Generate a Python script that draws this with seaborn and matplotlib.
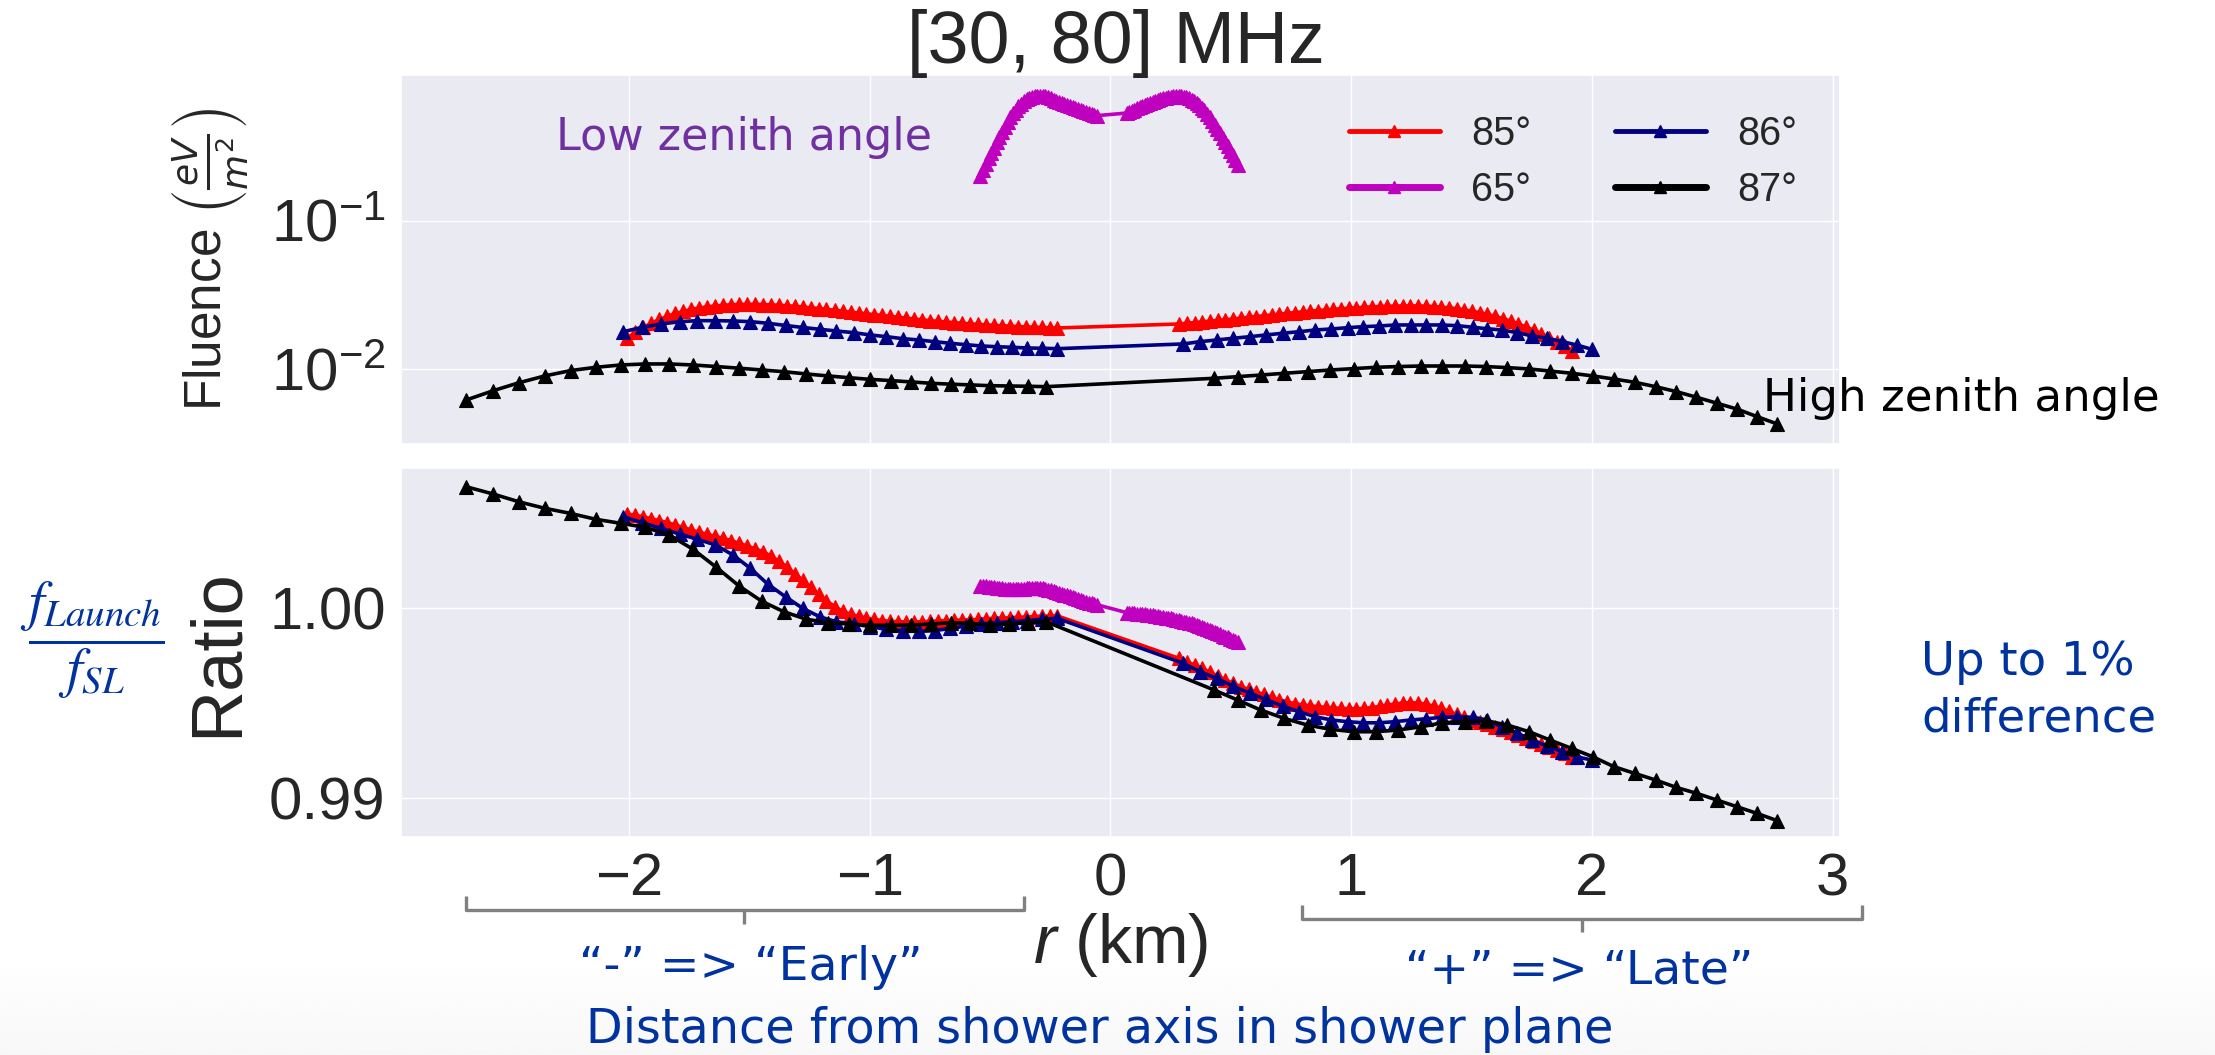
import numpy as np
import pandas as pd
import matplotlib
matplotlib.use("Agg")
import matplotlib.pyplot as plt
from matplotlib.lines import Line2D
import seaborn as sns

# ---------------- data ----------------
angles = ["85°", "65°", "86°", "87°"]
colors = ["#FF0000", "#BF00BF", "#000080", "#000000"]

# 85 deg
r85_left = [-2.006, -1.973, -1.940, -1.907, -1.874, -1.841, -1.807, -1.774, -1.741, -1.708,
            -1.675, -1.642, -1.609, -1.576, -1.543, -1.510, -1.476, -1.443, -1.410, -1.377,
            -1.344, -1.311, -1.278, -1.245, -1.212, -1.179, -1.145, -1.112, -1.079, -1.046,
            -1.013, -0.980, -0.947, -0.914, -0.881, -0.848, -0.814, -0.781, -0.748, -0.715,
            -0.682, -0.649, -0.616, -0.583, -0.550, -0.517, -0.483, -0.450, -0.417, -0.384,
            -0.351, -0.318, -0.285, -0.252, -0.221]
fl85_left = [0.01620, 0.01764, 0.01907, 0.02029, 0.02160, 0.02263, 0.02371, 0.02447, 0.02524, 0.02584,
             0.02624, 0.02665, 0.02694, 0.02715, 0.02728, 0.02732, 0.02732, 0.02723, 0.02711, 0.02694,
             0.02673, 0.02652, 0.02624, 0.02592, 0.02560, 0.02528, 0.02493, 0.02458, 0.02424, 0.02390,
             0.02360, 0.02328, 0.02299, 0.02267, 0.02235, 0.02204, 0.02174, 0.02147, 0.02120, 0.02097,
             0.02074, 0.02055, 0.02036, 0.02017, 0.02001, 0.01986, 0.01970, 0.01958, 0.01946, 0.01934,
             0.01925, 0.01916, 0.01907, 0.01898, 0.01892]
ra85_left = [1.00495, 1.00488, 1.00480, 1.00470, 1.00460, 1.00450, 1.00437, 1.00424, 1.00411, 1.00399,
             1.00388, 1.00377, 1.00367, 1.00355, 1.00341, 1.00327, 1.00312, 1.00296, 1.00273, 1.00247,
             1.00215, 1.00181, 1.00145, 1.00110, 1.00072, 1.00037, 1.00008, 0.99982, 0.99967, 0.99956,
             0.99947, 0.99940, 0.99934, 0.99930, 0.99928, 0.99927, 0.99927, 0.99928, 0.99930, 0.99932,
             0.99934, 0.99935, 0.99937, 0.99938, 0.99940, 0.99943, 0.99946, 0.99947, 0.99949, 0.99951,
             0.99953, 0.99955, 0.99957, 0.99958, 0.99959]
r85_right = [0.286, 0.318, 0.350, 0.382, 0.414, 0.446, 0.478, 0.510, 0.542, 0.574,
             0.606, 0.638, 0.670, 0.702, 0.734, 0.766, 0.798, 0.830, 0.862, 0.894,
             0.926, 0.958, 0.990, 1.022, 1.054, 1.086, 1.118, 1.150, 1.182, 1.214,
             1.246, 1.278, 1.310, 1.342, 1.374, 1.406, 1.438, 1.470, 1.502, 1.534,
             1.566, 1.598, 1.630, 1.662, 1.694, 1.726, 1.758, 1.790, 1.822, 1.854,
             1.886, 1.918]
fl85_right = [0.02014, 0.02036, 0.02058, 0.02081, 0.02104, 0.02127, 0.02150, 0.02177, 0.02204, 0.02232,
              0.02260, 0.02288, 0.02317, 0.02346, 0.02375, 0.02405, 0.02431, 0.02458, 0.02481, 0.02504,
              0.02528, 0.02552, 0.02571, 0.02592, 0.02612, 0.02628, 0.02640, 0.02652, 0.02661, 0.02665,
              0.02669, 0.02665, 0.02657, 0.02640, 0.02616, 0.02588, 0.02552, 0.02508, 0.02458, 0.02401,
              0.02335, 0.02263, 0.02187, 0.02104, 0.02014, 0.01922, 0.01825, 0.01728, 0.01630, 0.01529,
              0.01425, 0.01323]
ra85_right = [0.99735, 0.99717, 0.99700, 0.99682, 0.99662, 0.99642, 0.99622, 0.99604, 0.99586, 0.99572,
              0.99558, 0.99545, 0.99530, 0.99516, 0.99505, 0.99497, 0.99490, 0.99485, 0.99481, 0.99477,
              0.99474, 0.99472, 0.99470, 0.99470, 0.99472, 0.99476, 0.99482, 0.99489, 0.99495, 0.99500,
              0.99502, 0.99500, 0.99494, 0.99484, 0.99472, 0.99456, 0.99440, 0.99424, 0.99410, 0.99400,
              0.99388, 0.99375, 0.99362, 0.99348, 0.99333, 0.99317, 0.99302, 0.99286, 0.99270, 0.99254,
              0.99237, 0.99215]

# 65 deg
r65_left = [-0.540, -0.529, -0.517, -0.506, -0.495, -0.484, -0.472, -0.461, -0.450, -0.439,
            -0.427, -0.416, -0.405, -0.394, -0.382, -0.371, -0.360, -0.348, -0.337, -0.326,
            -0.315, -0.303, -0.292, -0.281, -0.270, -0.258, -0.247, -0.236, -0.225, -0.213,
            -0.202, -0.191, -0.179, -0.168, -0.157, -0.146, -0.134, -0.123, -0.112, -0.101,
            -0.089, -0.078, -0.067, -0.055]
fl65_left = [0.2029, 0.2215, 0.2425, 0.2645, 0.2885, 0.3135, 0.3417, 0.3705, 0.4020, 0.4345,
             0.4695, 0.5015, 0.5335, 0.5645, 0.5960, 0.6215, 0.6440, 0.6650, 0.6800, 0.6910,
             0.6975, 0.7013, 0.7015, 0.6990, 0.6950, 0.6850, 0.6730, 0.6610, 0.6500, 0.6370,
             0.6250, 0.6145, 0.6040, 0.5950, 0.5855, 0.5765, 0.5675, 0.5587, 0.5512, 0.5440,
             0.5366, 0.5296, 0.5227, 0.5154]
ra65_left = [1.00118, 1.00117, 1.00115, 1.00113, 1.00111, 1.00109, 1.00107, 1.00105, 1.00103, 1.00102,
             1.00101, 1.00100, 1.00099, 1.00099, 1.00099, 1.00100, 1.00101, 1.00103, 1.00105, 1.00107,
             1.00107, 1.00107, 1.00106, 1.00103, 1.00100, 1.00097, 1.00093, 1.00089, 1.00085, 1.00080,
             1.00075, 1.00071, 1.00066, 1.00061, 1.00057, 1.00052, 1.00047, 1.00042, 1.00038, 1.00034,
             1.00029, 1.00025, 1.00021, 1.00017]
r65_right = [0.068, 0.079, 0.089, 0.100, 0.111, 0.122, 0.132, 0.143, 0.154, 0.165,
             0.175, 0.186, 0.197, 0.208, 0.218, 0.229, 0.240, 0.251, 0.261, 0.272,
             0.283, 0.294, 0.304, 0.315, 0.326, 0.337, 0.347, 0.358, 0.369, 0.380,
             0.390, 0.401, 0.412, 0.423, 0.433, 0.444, 0.455, 0.466, 0.476, 0.487,
             0.498, 0.509, 0.519, 0.530]
fl65_right = [0.5366, 0.5471, 0.5565, 0.5667, 0.5778, 0.5883, 0.5976, 0.6079, 0.6184, 0.6290,
              0.6380, 0.6478, 0.6577, 0.6669, 0.6750, 0.6832, 0.6890, 0.6935, 0.6965, 0.6988,
              0.6990, 0.6970, 0.6915, 0.6840, 0.6760, 0.6615, 0.6460, 0.6270, 0.6080, 0.5830,
              0.5590, 0.5310, 0.5030, 0.4745, 0.4480, 0.4205, 0.3935, 0.3666, 0.3445, 0.3215,
              0.2995, 0.2780, 0.2595, 0.2389]
ra65_right = [0.99976, 0.99975, 0.99973, 0.99972, 0.99971, 0.99969, 0.99968, 0.99967, 0.99965, 0.99963,
              0.99961, 0.99959, 0.99957, 0.99955, 0.99952, 0.99950, 0.99948, 0.99945, 0.99942, 0.99939,
              0.99936, 0.99932, 0.99929, 0.99926, 0.99922, 0.99919, 0.99914, 0.99909, 0.99904, 0.99898,
              0.99893, 0.99888, 0.99882, 0.99877, 0.99872, 0.99866, 0.99861, 0.99855, 0.99850, 0.99845,
              0.99839, 0.99834, 0.99829, 0.99823]

# 86 deg
r86_left = [-2.022, -1.944, -1.865, -1.788, -1.715, -1.640, -1.567, -1.495, -1.422, -1.349,
            -1.277, -1.207, -1.138, -1.066, -0.997, -0.930, -0.862, -0.795, -0.730, -0.665,
            -0.599, -0.536, -0.472, -0.408, -0.347, -0.283, -0.221]
fl86_left = [0.01786, 0.01913, 0.02014, 0.02088, 0.02120, 0.02120, 0.02110, 0.02088, 0.02036, 0.01967,
             0.01907, 0.01854, 0.01806, 0.01759, 0.01697, 0.01653, 0.01602, 0.01570, 0.01529, 0.01491,
             0.01459, 0.01430, 0.01414, 0.01401, 0.01386, 0.01380, 0.01371]
ra86_left = [1.00481, 1.00449, 1.00419, 1.00389, 1.00362, 1.00332, 1.00279, 1.00209, 1.00125, 1.00059,
             0.99998, 0.99954, 0.99928, 0.99916, 0.99902, 0.99888, 0.99881, 0.99877, 0.99881, 0.99893,
             0.99905, 0.99916, 0.99923, 0.99928, 0.99933, 0.99941, 0.99946]
r86_right = [0.303, 0.372, 0.441, 0.510, 0.580, 0.646, 0.715, 0.784, 0.851, 0.917,
             0.985, 1.050, 1.116, 1.183, 1.248, 1.312, 1.376, 1.441, 1.506, 1.565,
             1.625, 1.690, 1.752, 1.814, 1.877, 1.937, 1.999]
fl86_right = [0.01476, 0.01529, 0.01570, 0.01612, 0.01653, 0.01697, 0.01743, 0.01786, 0.01834, 0.01863,
              0.01901, 0.01931, 0.01952, 0.01983, 0.01983, 0.01983, 0.01983, 0.01961, 0.01913, 0.01869,
              0.01834, 0.01759, 0.01671, 0.01612, 0.01529, 0.01452, 0.01358]
ra86_right = [0.99709, 0.99665, 0.99630, 0.99589, 0.99551, 0.99519, 0.99484, 0.99454, 0.99428, 0.99411,
              0.99402, 0.99396, 0.99396, 0.99402, 0.99411, 0.99417, 0.99425, 0.99428, 0.99425, 0.99411,
              0.99375, 0.99341, 0.99305, 0.99274, 0.99244, 0.99217, 0.99200]

# 87 deg
r87_left = [-2.674, -2.563, -2.456, -2.349, -2.242, -2.137, -2.034, -1.932, -1.832, -1.733,
            -1.636, -1.542, -1.448, -1.357, -1.263, -1.173, -1.086, -1.000, -0.910, -0.827,
            -0.744, -0.661, -0.581, -0.502, -0.422, -0.342, -0.267]
fl87_left = [0.00618, 0.00713, 0.00807, 0.00897, 0.00975, 0.01026, 0.01064, 0.01081, 0.01081, 0.01064,
             0.01038, 0.01012, 0.00984, 0.00959, 0.00925, 0.00897, 0.00873, 0.00851, 0.00834, 0.00817,
             0.00800, 0.00789, 0.00780, 0.00771, 0.00767, 0.00764, 0.00759]
ra87_left = [1.00638, 1.00600, 1.00559, 1.00525, 1.00498, 1.00467, 1.00446, 1.00425, 1.00384, 1.00309,
             1.00214, 1.00116, 1.00036, 0.99981, 0.99941, 0.99923, 0.99916, 0.99909, 0.99909, 0.99911,
             0.99916, 0.99923, 0.99919, 0.99911, 0.99916, 0.99923, 0.99928]
r87_right = [0.432, 0.528, 0.625, 0.722, 0.819, 0.913, 1.010, 1.102, 1.196, 1.289,
             1.379, 1.473, 1.559, 1.649, 1.739, 1.826, 1.916, 2.004, 2.091, 2.177,
             2.264, 2.350, 2.434, 2.520, 2.603, 2.686, 2.769]
fl87_right = [0.00865, 0.00887, 0.00910, 0.00935, 0.00959, 0.00984, 0.01005, 0.01026, 0.01038, 0.01047,
              0.01047, 0.01047, 0.01038, 0.01021, 0.01000, 0.00968, 0.00935, 0.00897, 0.00855, 0.00813,
              0.00759, 0.00703, 0.00644, 0.00586, 0.00535, 0.00476, 0.00425]
ra87_right = [0.99568, 0.99516, 0.99463, 0.99419, 0.99384, 0.99362, 0.99349, 0.99349, 0.99358, 0.99375,
              0.99396, 0.99402, 0.99407, 0.99384, 0.99349, 0.99305, 0.99261, 0.99217, 0.99165, 0.99130,
              0.99095, 0.99056, 0.99025, 0.98989, 0.98954, 0.98919, 0.98881]

x_ticks = [-2, -1, 0, 1, 2, 3]
fluence_ticks = [0.01, 0.1]
ratio_ticks = [0.99, 1.00]

# ---------------- table for seaborn ----------------
series = {
    "85°": (r85_left + r85_right, fl85_left + fl85_right, ra85_left + ra85_right),
    "65°": (r65_left + r65_right, fl65_left + fl65_right, ra65_left + ra65_right),
    "86°": (r86_left + r86_right, fl86_left + fl86_right, ra86_left + ra86_right),
    "87°": (r87_left + r87_right, fl87_left + fl87_right, ra87_left + ra87_right),
}
frames = []
for name, (rr, ff, qq) in series.items():
    frames.append(pd.DataFrame({"r": rr, "fluence": ff, "ratio": qq, "angle": name}))
df = pd.concat(frames, ignore_index=True)
palette = dict(zip(angles, colors))

# ---------------- style ----------------
sns.set_theme(style="darkgrid")
plt.rcParams["font.family"] = ["Liberation Sans", "DejaVu Sans"]
plt.rcParams["mathtext.fontset"] = "custom"
plt.rcParams["mathtext.rm"] = "Liberation Sans"
plt.rcParams["mathtext.it"] = "Liberation Sans:italic"
plt.rcParams["mathtext.bf"] = "Liberation Sans:bold"
plt.rcParams["axes.unicode_minus"] = True

W, H = 2215, 1055
fig = plt.figure(figsize=(W / 100, H / 100), dpi=100)
fig.patch.set_facecolor("white")


def fx(x):
    return x / W


def fy(y):
    return 1 - y / H


# faint slide background band at the bottom
bg = fig.add_axes([0, 0, 1, fy(960)], zorder=-5)
bg.imshow(np.linspace(1.0, 0.955, 60).reshape(-1, 1), aspect="auto", cmap="gray",
          vmin=0, vmax=1, extent=[0, 1, 0, 1], alpha=0.6)
bg.set_axis_off()

ax_top = fig.add_axes([fx(401), fy(444), (1840 - 401) / W, (444 - 75) / H])
ax_bot = fig.add_axes([fx(401), fy(837), (1840 - 401) / W, (837 - 468) / H], sharex=ax_top)

ax_top.set_yscale("log")
line_kw = dict(marker="^", markersize=10.5, linewidth=2.6, estimator=None, sort=False,
               hue_order=angles, palette=palette, legend=False)
sns.lineplot(data=df, x="r", y="fluence", hue="angle", ax=ax_top, **line_kw)
sns.lineplot(data=df, x="r", y="ratio", hue="angle", ax=ax_bot, **line_kw)
for ax in (ax_top, ax_bot):
    for ln in ax.lines:
        ln.set_markeredgecolor(ln.get_color())
        ln.set_markeredgewidth(0.8)

ax_top.set_xlim(-2.946, 3.03)
ax_top.set_ylim(0.00311, 0.97)
ax_top.set_yticks(fluence_ticks)
ax_top.yaxis.set_minor_locator(matplotlib.ticker.NullLocator())
ax_bot.set_ylim(0.98795, 1.00737)
ax_bot.set_yticks(ratio_ticks)
ax_bot.yaxis.set_major_formatter(matplotlib.ticker.FormatStrFormatter("%.2f"))
ax_bot.set_xticks(x_ticks)

for ax in (ax_top, ax_bot):
    ax.tick_params(axis="both", which="both", length=0, pad=11, labelsize=43, labelcolor="#262626")
ax_top.tick_params(axis="x", labelbottom=False)
ax_top.set_xlabel("")

ax_top.set_ylabel(r"Fluence $\left(\frac{eV}{m^2}\right)$", fontsize=37, color="#262626",
                  math_fontfamily="dejavusans")
ax_top.yaxis.set_label_coords(-0.105, 0.5)
ax_bot.set_ylabel("Ratio", fontsize=52, color="#262626")
ax_bot.yaxis.set_label_coords(-0.1035, 0.5)
ax_bot.set_xlabel(r"$r$ (km)", fontsize=49, color="#262626")
ax_bot.xaxis.set_label_coords(0.5, -0.20)

# legend
handles = []
for name, c in zip(angles, colors):
    lw = 5 if name in ("65°", "87°") else 3.5
    handles.append(Line2D([], [], color=c, lw=lw, marker="^", markersize=9, markeredgecolor=c))
leg = ax_top.legend(handles, angles, ncol=2, loc="center", bbox_to_anchor=(0.8145, 0.764),
                    frameon=False, fontsize=28.5, handlelength=2.3, handletextpad=0.8,
                    columnspacing=2.1, labelspacing=0.45)
for t in leg.get_texts():
    t.set_color("#262626")

# title
fig.text(fx(1116), fy(63), "[30, 80] MHz", ha="center", va="baseline", fontsize=53, color="#262626")

# slide annotations
blue = "#0033A0"
sl = dict(family="DejaVu Sans", va="baseline", ha="left")
fig.text(fx(556), fy(150), "Low zenith angle", color="#7030A0", fontsize=32, **sl)
fig.text(fx(1763), fy(411), "High zenith angle", color="black", fontsize=32.5, **sl)
fig.text(fx(1921), fy(675), "Up to 1%", color=blue, fontsize=33.5, **sl)
fig.text(fx(1921), fy(732), "difference", color=blue, fontsize=33.5, **sl)
fig.text(fx(579), fy(980), "\u201c-\u201d => \u201cEarly\u201d", color=blue, fontsize=34, **sl)
fig.text(fx(1405), fy(983), "\u201c+\u201d => \u201cLate\u201d", color=blue, fontsize=34, **sl)
fig.text(fx(586), fy(1043), "Distance from shower axis in shower plane", color=blue, fontsize=34.4, **sl)
fig.text(fx(92), fy(640), r"$\dfrac{f_{Launch}}{f_{SL}}$", ha="center", va="center",
         fontsize=40, color=blue, math_fontfamily="stix")


def bracket(x0, x1, y, ytop, xm, ybot):
    kw = dict(transform=fig.transFigure, color="#808080", lw=2.4, solid_capstyle="butt")
    fig.add_artist(Line2D([fx(x0), fx(x0), fx(x1), fx(x1)], [fy(ytop), fy(y), fy(y), fy(ytop)], **kw))
    fig.add_artist(Line2D([fx(xm), fx(xm)], [fy(y), fy(ybot)], **kw))


bracket(466, 1024, 910, 896, 744, 924)
bracket(1302, 1862, 919, 905, 1582, 932)

fig.savefig("out.png", dpi=100)
